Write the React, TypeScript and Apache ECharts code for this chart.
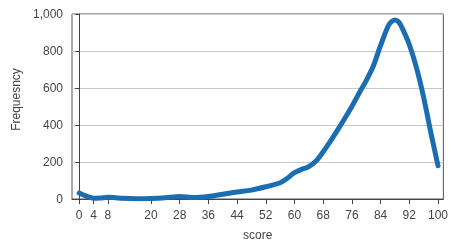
import React, { useEffect, useRef } from "react";
import * as echarts from "echarts";

const scores = [0, 2, 4, 6, 8, 10, 12, 16, 20, 24, 28, 32, 36, 40, 44, 48, 52, 56, 58, 60, 62, 64, 66, 68, 70, 72, 74, 76, 78, 80, 82, 84, 86, 87, 88, 89, 90, 92, 94, 96, 98, 100];
const frequency = [32, 15, 4, 6, 9, 7, 4, 2, 3, 7, 14, 8, 14, 26, 38, 48, 66, 88, 112, 142, 160, 175, 205, 255, 312, 372, 435, 500, 572, 640, 720, 830, 930, 958, 968, 958, 925, 835, 710, 550, 360, 180];
const xTicks = [0, 4, 8, 20, 28, 36, 44, 52, 60, 68, 76, 84, 92, 100];

export default function App() {
  const ref = useRef<HTMLDivElement>(null);
  useEffect(() => {
    const chart = echarts.init(ref.current!, null, { renderer: "svg" });
    const font = "Liberation Sans, Arial, sans-serif";
    chart.setOption({
      animation: false,
      grid: {
        left: 72, top: 14, right: 4, bottom: 46,
        show: true, borderColor: "#555", borderWidth: 1, backgroundColor: "transparent",
      },
      xAxis: {
        type: "value", min: -2, max: 101.5,
        name: "score", nameLocation: "middle", nameGap: 30,
        nameTextStyle: { fontFamily: font, fontSize: 12, color: "#444" },
        axisLine: { lineStyle: { color: "#444" } },
        axisTick: { show: true, length: 5, lineStyle: { color: "#444" }, customValues: xTicks },
        axisLabel: { customValues: xTicks, margin: 10, fontFamily: font, fontSize: 12, color: "#444" },
        splitLine: { show: false },
      },
      yAxis: {
        type: "value", min: 0, max: 1000, interval: 200,
        name: "Frequesncy", nameLocation: "middle", nameGap: 44, nameRotate: 90,
        nameTextStyle: { fontFamily: font, fontSize: 12, color: "#444", padding: [0, 0, 0, 14] },
        axisLine: { show: true, lineStyle: { color: "#444" } },
        axisTick: { show: true, length: 4, lineStyle: { color: "#444" } },
        axisLabel: {
          margin: 9, fontFamily: font, fontSize: 12, color: "#444",
          formatter: (v: number) => v.toLocaleString("en-US"),
        },
        splitLine: { show: true, lineStyle: { color: "#c8c8c8" } },
      },
      series: [{
        type: "line",
        data: scores.map((s, i) => [s, frequency[i]]),
        smooth: 0.3,
        showSymbol: false,
        lineStyle: { color: "#1b6db1", width: 5, cap: "round", join: "round" },
      }],
    });
    return () => chart.dispose();
  }, []);
  return <div ref={ref} style={{ position: "fixed", left: 0, top: 0, width: 451, height: 246 }} />;
}
